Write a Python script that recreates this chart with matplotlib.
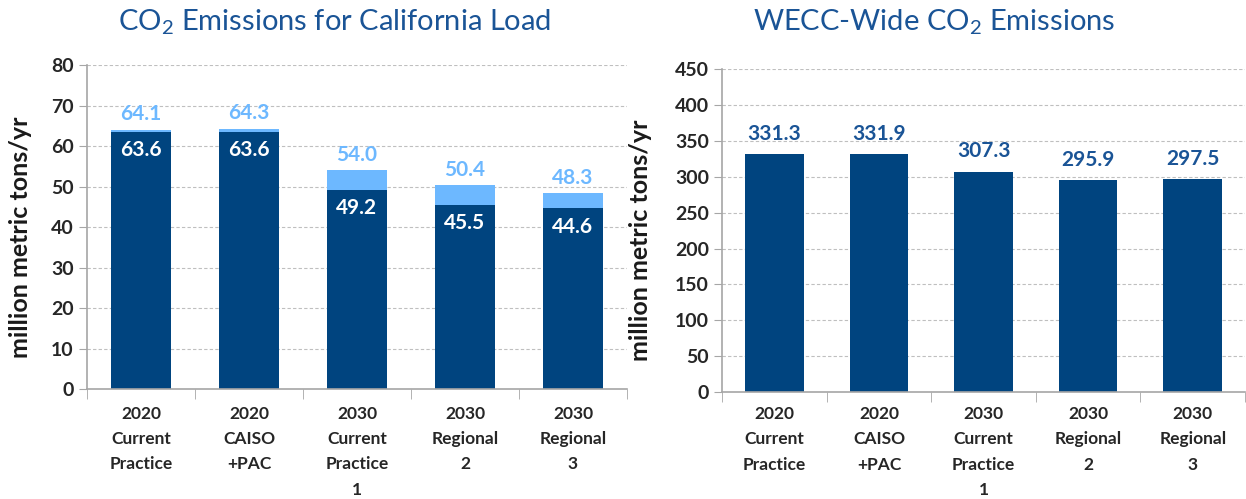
import numpy as np
import matplotlib.pyplot as plt

plt.rcParams['font.family'] = ['Lato', 'DejaVu Sans']
plt.rcParams['mathtext.fontset'] = 'custom'
plt.rcParams['mathtext.rm'] = 'Lato'

# data
categories = ['2020\nCurrent\nPractice', '2020\nCAISO\n+PAC', '2030\nCurrent\nPractice\n1',
              '2030\nRegional\n2', '2030\nRegional\n3']
ca_base = [63.6, 63.6, 49.2, 45.5, 44.6]
ca_total = [64.1, 64.3, 54.0, 50.4, 48.3]
wecc_total = [331.3, 331.9, 307.3, 295.9, 297.5]

dark = '#00447F'
light = '#6DB8FF'
title_col = '#1A5496'
grid_col = '#BFBFBF'
axis_col = '#A6A6A6'

fig = plt.figure(figsize=(12.46, 4.99), dpi=100)
ax1 = fig.add_axes([0.0698, 0.2204, 0.4334, 0.649])
ax2 = fig.add_axes([0.5795, 0.2144, 0.4197, 0.647])

x = np.arange(len(categories))
w = 0.56


def style(ax, ymax, step, ylab_x, pad):
    ax.set_xlim(-0.5, len(categories) - 0.5)
    ax.set_ylim(0, ymax)
    ax.set_yticks(np.arange(0, ymax + 1, step))
    ax.yaxis.grid(True, linestyle=(0, (3, 2)), color=grid_col, linewidth=0.8)
    ax.set_axisbelow(True)
    for s in ['top', 'right']:
        ax.spines[s].set_visible(False)
    for s in ['left', 'bottom']:
        ax.spines[s].set_color(axis_col)
        ax.spines[s].set_linewidth(1.2)
    ax.set_xticks(x)
    ax.set_xticklabels(categories, fontsize=12.5, fontweight='bold', color='#262626',
                       linespacing=1.72, va='top')
    ax.set_xticks(np.arange(-0.5, len(categories)), minor=True)
    ax.tick_params(axis='x', which='major', length=0, pad=pad)
    ax.tick_params(axis='x', which='minor', length=7, color=axis_col, direction='out')
    ax.tick_params(axis='y', length=6, color=axis_col, labelsize=14, labelcolor='#262626')
    for lbl in ax.get_yticklabels():
        lbl.set_fontweight('bold')
    ax.set_ylabel('million metric tons/yr', fontsize=18, fontweight='bold', color='#1a1a1a')
    ax.yaxis.set_label_coords(ylab_x, 0.47)


# left chart
ca_extra = np.array(ca_total) - np.array(ca_base)
ax1.bar(x, ca_base, w, color=dark, zorder=2)
ax1.bar(x, ca_extra, w, bottom=ca_base, color=light, zorder=2)
style(ax1, 80, 10, -0.101, 12)
for i in range(len(x)):
    ax1.text(x[i], ca_total[i] + 1.3, f'{ca_total[i]:.1f}', ha='center', va='bottom',
             fontsize=15, fontweight='bold', color=light)
    ax1.text(x[i], ca_base[i] - 2.0, f'{ca_base[i]:.1f}', ha='center', va='top',
             fontsize=15, fontweight='bold', color='white')
fig.text(335 / 1246, 1 - 22 / 499, 'CO$_2$ Emissions for California Load', fontsize=21,
         color=title_col, ha='center', va='center')

# right chart
ax2.bar(x, wecc_total, w, color=dark, zorder=2)
style(ax2, 450, 50, -0.134, 10)
for i in range(len(x)):
    ax2.text(x[i], wecc_total[i] + 14, f'{wecc_total[i]:.1f}', ha='center', va='bottom',
             fontsize=15, fontweight='bold', color=title_col)
fig.text(934 / 1246, 1 - 22 / 499, 'WECC-Wide CO$_2$ Emissions', fontsize=21,
         color=title_col, ha='center', va='center')

fig.savefig('out.png', dpi=100)
